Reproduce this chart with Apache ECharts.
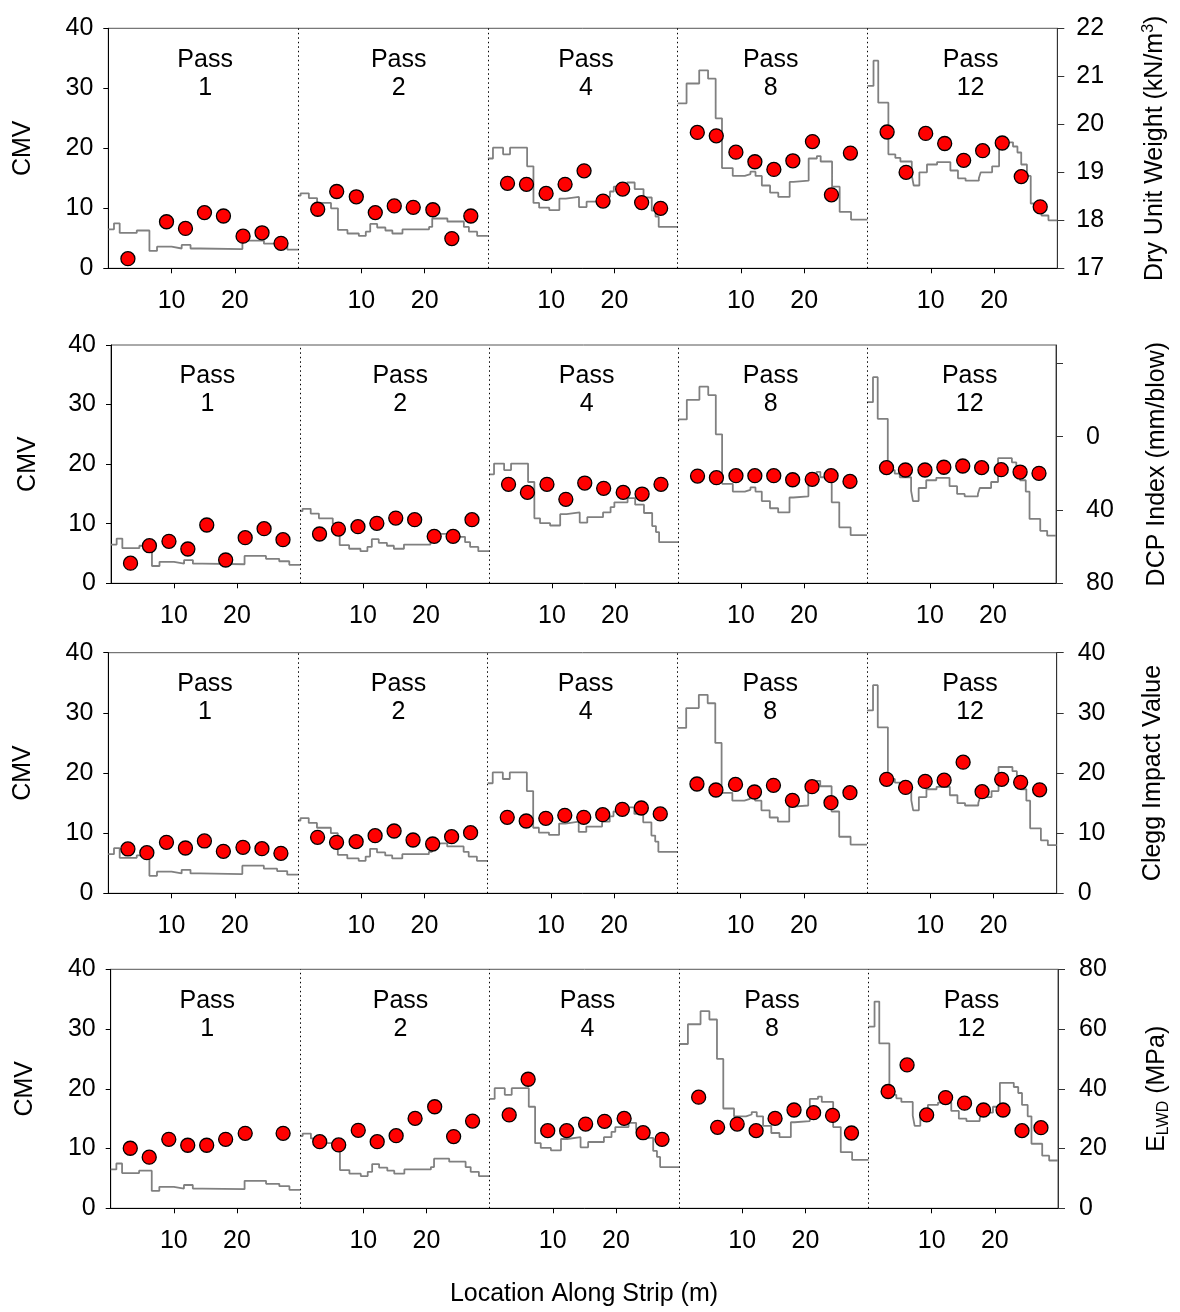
<!DOCTYPE html>
<html><head><meta charset="utf-8">
<script src="https://cdn.jsdelivr.net/npm/echarts@6/dist/echarts.min.js"></script>
<style>html,body{margin:0;padding:0;background:#fff}#c{width:1180px;height:1312px}</style>
</head><body><div id="c"></div>
<script>
// ---------- DATA ----------
const passes = ['1', '2', '4', '8', '12'];
const testLocations = [3.1, 6.1, 9.2, 12.2, 15.2, 18.2, 21.3, 24.3, 27.3];
const xTickLabels = [10, 20];

// CMV step profiles [location (m), CMV]
const cmvPass1 = [[0,6.5],[0.9,7.5],[1.8,5.9],[4.5,6.3],[6.5,2.9],[7.7,3.6],[10,3.3],[11.6,3.9],[13,3.3],[14.5,3.2],[21.2,4.6],[24.6,4.1],[26.7,3.7],[28.3,3.1],[30,3.1]];
const cmvPass2 = [[0,12.1],[0.4,12.5],[1.7,11.7],[3.0,10.9],[5.2,10.0],[6.3,6.4],[7.8,5.8],[9.6,5.4],[10.7,6.1],[11.4,7.4],[12.5,6.8],[13.8,6.3],[14.9,5.8],[16.5,6.5],[20.7,6.9],[21.2,8.3],[23.6,7.8],[26.2,6.9],[27.0,6.1],[28.3,5.4],[30,5.4]];
const cmvPass4 = [[0,18.3],[0.8,20.1],[2.4,19.0],[3.5,20.1],[6.2,17.0],[7.2,10.9],[8.1,10.1],[9.7,9.7],[11.3,11.6],[12.3,11.9],[14.4,10.2],[15.6,11.1],[18.1,11.9],[19.3,12.8],[19.9,13.6],[22.0,14.3],[23.2,13.2],[24.6,11.8],[25.9,9.6],[26.5,8.6],[27.0,6.9],[30,6.9]];
const cmvPass8 = [[0,27.5],[1.4,30.8],[3.4,33.0],[4.8,31.6],[6.0,25.0],[7.0,16.7],[8.7,15.4],[10.6,15.7],[11.5,16.1],[12.3,15.4],[13.3,13.8],[14.6,12.6],[15.9,11.9],[17.7,14.4],[18.3,14.6],[20.7,18.3],[22.0,18.7],[22.6,17.8],[24.4,13.6],[25.6,9.4],[27.4,8.1],[30,8.1]];
const cmvPass12 = [[0,30.4],[0.95,34.6],[1.7,27.6],[3.3,19.0],[4.4,18.4],[5.2,17.8],[7.0,15.5],[7.3,13.8],[8.2,16.0],[9.4,17.3],[11.0,17.7],[13.1,16.3],[14.3,15.0],[15.5,14.6],[17.6,15.0],[17.9,16.0],[19.7,17.0],[20.8,21.0],[23.0,20.3],[23.7,19.3],[24.3,17.3],[25.2,15.4],[25.8,10.8],[27.5,8.8],[28.6,8.0],[30,8.0]];
const cmvProfiles = [cmvPass1, cmvPass2, cmvPass4, cmvPass8, cmvPass12];

// Point measurements at testLocations, one list per pass
const dryUnitWeight = [
  [17.2, null, 17.97, 17.83, 18.16, 18.09, 17.67, 17.74, 17.52],
  [18.23, 18.6, 18.49, 18.16, 18.3, 18.27, 18.22, 17.62, 18.09],
  [18.77, 18.75, 18.56, 18.75, 19.03, 18.4, 18.65, 18.37, 18.25],
  [19.83, 19.76, 19.42, 19.22, 19.06, 19.24, 19.64, 18.53, 19.4],
  [19.84, 19.0, 19.81, 19.6, 19.25, 19.45, 19.61, 18.91, 18.28]
];
const dcpIndex = [
  [69, 59.5, 57.1, 61.3, 48.2, 67.3, 55.1, 50.2, 56.2],
  [53.1, 50.4, 49.1, 47.3, 44.4, 45.3, 54.4, 54.4, 45.3],
  [26, 30.4, 26, 34.2, 25.3, 28.2, 30.4, 31.3, 26],
  [21.5, 22.4, 21.3, 21.3, 21.3, 23.5, 23.3, 21.3, 24.4],
  [16.9, 18.2, 18.2, 16.7, 16, 16.9, 18, 19.3, 20]
];
const cleggImpact = [
  [7.37, 6.76, 8.48, 7.53, 8.7, 6.98, 7.65, 7.42, 6.65],
  [9.3, 8.48, 8.59, 9.58, 10.36, 8.86, 8.2, 9.42, 10.08],
  [12.63, 12.02, 12.47, 12.96, 12.63, 13.07, 13.96, 14.18, 13.19],
  [18.17, 17.17, 18.1, 16.84, 17.95, 15.46, 17.73, 15.07, 16.73],
  [18.95, 17.6, 18.6, 18.8, 21.8, 16.9, 18.95, 18.45, 17.2]
];
const eLWD = [
  [20.1, 17.1, 23.1, 21.1, 21.1, 23.1, 25.1, null, 25.1],
  [22.3, 21.2, 26.1, 22.3, 24.3, 30.1, 34.0, 24.0, 29.2],
  [31.25, 43.2, 26.0, 26.0, 28.2, 29.1, 30.1, 25.3, 23.1],
  [37.2, 27.1, 28.2, 26.0, 30.1, 32.9, 32.0, 31.1, 25.2],
  [39.1, 48.0, 31.25, 37.05, 35.2, 32.9, 32.9, 26.0, 27.0]
];

// ---------- LAYOUT ----------
const FONT = '"Liberation Sans", Arial, sans-serif';
const FS = 25;
const PANEL = 30;
const labelShift = [0.3, 0.9, 0.5, -0.3, 1.3];
const rows = [
  { grid: {left: 108.3, right: 122.7, top: 28.3, height: 240},
    values: dryUnitWeight,
    rAxis: {min: 17, max: 22, interval: 1},
    rName: 'Dry Unit Weight (kN/m{sup|3})', rGap: 83, rMargin: 19, lGap: 73 },
  { grid: {left: 111, right: 120, top: 345, height: 238.3},
    values: dcpIndex,
    rAxis: {min: -50, max: 80, inverse: true,
            tickValues: [-40, 0, 40, 80], labelValues: [0, 40, 80]},
    rName: 'DCP Index (mm/blow)', rGap: 86, rMargin: 30, lGap: 70 },
  { grid: {left: 108.3, right: 123.3, top: 652.7, height: 240.6},
    values: cleggImpact,
    rAxis: {min: 0, max: 40, interval: 10},
    rName: 'Clegg Impact Value', rGap: 81, rMargin: 21, lGap: 73 },
  { grid: {left: 110.7, right: 120.7, top: 969.3, height: 239},
    values: eLWD,
    rAxis: {min: 0, max: 80, interval: 20},
    rName: 'E{sub|LWD} (MPa)', rGap: 84, rMargin: 21, lGap: 73 }
];

const xTicks = [];
passes.forEach((p, i) => xTickLabels.forEach(t => xTicks.push(i * PANEL + t)));
const dividers = [1, 2, 3, 4].map(i => ({xAxis: i * PANEL}));

const grids = [], xAxes = [], yAxes = [], series = [];
const textStyle = {fontFamily: FONT, fontSize: FS, color: '#000'};

rows.forEach((row, r) => {
  grids.push(Object.assign({show: true, borderColor: '#555', borderWidth: 1, containLabel: false}, row.grid));
  xAxes.push({
    gridIndex: r, type: 'value', min: 0, max: PANEL * passes.length,
    axisLine: {lineStyle: {color: '#000', width: 1}},
    axisTick: {customValues: xTicks, length: 5, lineStyle: {color: '#000'}},
    axisLabel: Object.assign({customValues: xTicks, margin: 20,
      formatter: v => String(Math.round(v - PANEL * Math.floor((v + 0.001) / PANEL)))}, textStyle),
    splitLine: {show: false}
  });
  yAxes.push({
    gridIndex: r, type: 'value', position: 'left', min: 0, max: 40, interval: 10,
    name: 'CMV', nameLocation: 'middle', nameGap: row.lGap,
    nameTextStyle: textStyle,
    axisLine: {show: true, lineStyle: {color: '#000', width: 1}},
    axisTick: {show: true, length: 5, lineStyle: {color: '#000'}},
    axisLabel: Object.assign({margin: 15}, textStyle),
    splitLine: {show: false}
  });
  const ra = row.rAxis;
  const rAxis = {
    gridIndex: r, type: 'value', position: 'right', min: ra.min, max: ra.max,
    inverse: !!ra.inverse,
    name: row.rName, nameLocation: 'middle', nameGap: row.rGap,
    nameTextStyle: Object.assign({lineHeight: 30, rich: {
      sup: {fontFamily: FONT, fontSize: 16, verticalAlign: 'top', lineHeight: 30, color: '#000'},
      sub: {fontFamily: FONT, fontSize: 16, verticalAlign: 'bottom', lineHeight: 22, color: '#000'}
    }}, textStyle),
    axisLine: {show: true, lineStyle: {color: '#333', width: 1}},
    axisTick: {show: true, length: 7, lineStyle: {color: '#333'}},
    axisLabel: Object.assign({margin: row.rMargin}, textStyle),
    splitLine: {show: false}
  };
  if (ra.interval) rAxis.interval = ra.interval;
  if (ra.tickValues) {
    rAxis.axisTick.customValues = ra.tickValues;
    rAxis.axisLabel.customValues = ra.labelValues;
  }
  yAxes.push(rAxis);

  cmvProfiles.forEach((prof, i) => {
    const s = {
      type: 'line', xAxisIndex: r, yAxisIndex: 2 * r, step: 'end', symbol: 'none',
      data: prof.map(([x, y]) => [i * PANEL + x, y]),
      lineStyle: {color: '#808080', width: 1.8}, z: 2, silent: true, animation: false
    };
    if (i === 0) {
      s.markLine = {symbol: 'none', silent: true, animation: false, label: {show: false},
        lineStyle: {type: [1.5, 3], color: '#000', width: 1}, data: dividers};
    }
    series.push(s);
  });

  const pts = [];
  row.values.forEach((vals, i) => vals.forEach((v, k) => {
    if (v !== null) pts.push([i * PANEL + testLocations[k], v]);
  }));
  series.push({
    type: 'scatter', xAxisIndex: r, yAxisIndex: 2 * r + 1, data: pts,
    symbol: 'circle', symbolSize: 14,
    itemStyle: {color: '#ff0000', borderColor: '#000', borderWidth: 1.3, opacity: 1},
    z: 5, silent: true, animation: false
  });

  series.push({
    type: 'scatter', xAxisIndex: r, yAxisIndex: 2 * r, symbolSize: 0,
    itemStyle: {opacity: 1},
    data: passes.map((p, i) => ({value: [i * PANEL + PANEL / 2 + labelShift[i], 32.4], name: p})),
    label: Object.assign({show: true, position: 'inside', lineHeight: 28, opacity: 1,
      formatter: d => 'Pass\n' + d.name}, textStyle),
    z: 6, silent: true, animation: false
  });
});

const chart = echarts.init(document.getElementById('c'), null, {renderer: 'canvas'});
chart.setOption({
  backgroundColor: '#fff',
  animation: false,
  grid: grids, xAxis: xAxes, yAxis: yAxes, series: series,
  graphic: [{type: 'text', x: 584, y: 1294,
    style: {text: 'Location Along Strip (m)', font: FS + 'px ' + FONT, fill: '#000',
            align: 'center', verticalAlign: 'middle'}}]
});
</script></body></html>
